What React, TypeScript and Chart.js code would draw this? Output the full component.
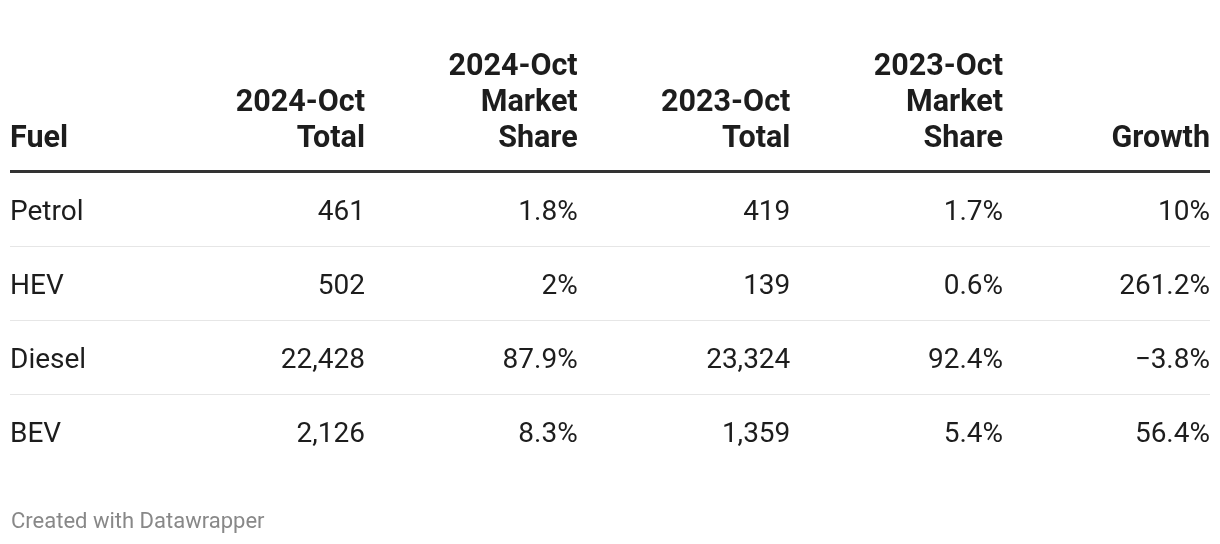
import React, { useEffect, useRef } from "react";
import { Chart, registerables } from "chart.js";

Chart.register(...registerables);

// ---- data ----
const headerLines: string[][] = [
  ["Fuel"],
  ["2024-Oct", "Total"],
  ["2024-Oct", "Market", "Share"],
  ["2023-Oct", "Total"],
  ["2023-Oct", "Market", "Share"],
  ["Growth"],
];
const fuels = ["Petrol", "HEV", "Diesel", "BEV"];
const total2024 = [461, 502, 22428, 2126];
const share2024 = [1.8, 2, 87.9, 8.3];
const total2023 = [419, 139, 23324, 1359];
const share2023 = [1.7, 0.6, 92.4, 5.4];
const growth = [10, 261.2, -3.8, 56.4];
const footerText = "Created with Datawrapper";

const fmtInt = (v: number) => v.toLocaleString("en-US");
const fmtPct = (v: number) => (v < 0 ? "\u2212" + Math.abs(v) : String(v)) + "%";

const cellColumns: string[][] = [
  fuels,
  total2024.map(fmtInt),
  share2024.map(fmtPct),
  total2023.map(fmtInt),
  share2023.map(fmtPct),
  growth.map(fmtPct),
];

const FONT = "Roboto, 'Noto Sans', sans-serif";

const tablePlugin = {
  id: "tablePlugin",
  afterDatasetsDraw(chart: any) {
    const { ctx, chartArea, scales } = chart;
    const xs = scales.x;
    const ys = scales.y;
    const left = chartArea.left;
    const right = chartArea.right;
    ctx.save();

    const colX = (c: number) => (c === 0 ? left : Math.min(xs.getPixelForValue(c), right));
    const colAlign = (c: number) => (c === 0 ? "left" : "right");

    // header
    const headerBase = ys.getPixelForValue(-0.5) - 26;
    ctx.font = `bold 30.5px ${FONT}`;
    ctx.fillStyle = "#1d1d1d";
    ctx.textBaseline = "alphabetic";
    headerLines.forEach((lines, c) => {
      ctx.textAlign = colAlign(c);
      const n = lines.length;
      lines.forEach((line, k) => {
        ctx.fillText(line, colX(c), headerBase - (n - 1 - k) * 36);
      });
    });

    // thick rule under header
    ctx.strokeStyle = "#333333";
    ctx.lineWidth = 3;
    const thickY = ys.getPixelForValue(-0.5) - 1.5;
    ctx.beginPath();
    ctx.moveTo(left, thickY);
    ctx.lineTo(right, thickY);
    ctx.stroke();

    // thin separators
    ctx.strokeStyle = "#e6e6e6";
    ctx.lineWidth = 1;
    for (let i = 0; i < fuels.length - 1; i++) {
      const y = Math.round(ys.getPixelForValue(i + 0.5)) - 0.5;
      ctx.beginPath();
      ctx.moveTo(left, y);
      ctx.lineTo(right, y);
      ctx.stroke();
    }

    // cells
    ctx.font = `28px ${FONT}`;
    ctx.fillStyle = "#1d1d1d";
    chart.data.datasets.forEach((ds: any, c: number) => {
      const meta = chart.getDatasetMeta(c);
      ctx.textAlign = colAlign(c);
      meta.data.forEach((pt: any, i: number) => {
        const x = c === 0 ? left : Math.min(pt.x, right);
        ctx.fillText(cellColumns[c][i], x, pt.y + 10);
      });
    });

    // footer
    ctx.font = `22px ${FONT}`;
    ctx.fillStyle = "#888888";
    ctx.textAlign = "left";
    ctx.fillText(footerText, left + 1, chart.height - 16);

    ctx.restore();
  },
};

export default function App() {
  const ref = useRef<HTMLCanvasElement | null>(null);
  useEffect(() => {
    if (!ref.current) return;
    const datasets = cellColumns.map((col, c) => ({
      label: headerLines[c].join(" "),
      data: col.map((_, i) => ({ x: c, y: i })),
      pointRadius: 0,
      pointHoverRadius: 0,
      showLine: false,
    }));
    const chart = new Chart(ref.current, {
      type: "scatter",
      data: { datasets },
      options: {
        responsive: false,
        animation: false,
        events: [],
        layout: { padding: { left: 10, right: 10, top: 0, bottom: 0 } },
        plugins: { legend: { display: false }, tooltip: { enabled: false }, title: { display: false } },
        scales: {
          x: { type: "linear", min: -0.6693, max: 4.9733, display: false },
          y: { type: "linear", reverse: true, min: -210 / 74, max: -210 / 74 + 544 / 74, display: false },
        },
      },
      plugins: [tablePlugin],
    });
    return () => chart.destroy();
  }, []);
  return (
    <div style={{ position: "absolute", left: 0, top: 0, width: 1220, height: 544, background: "#fff" }}>
      <canvas ref={ref} width={1220} height={544} />
    </div>
  );
}
